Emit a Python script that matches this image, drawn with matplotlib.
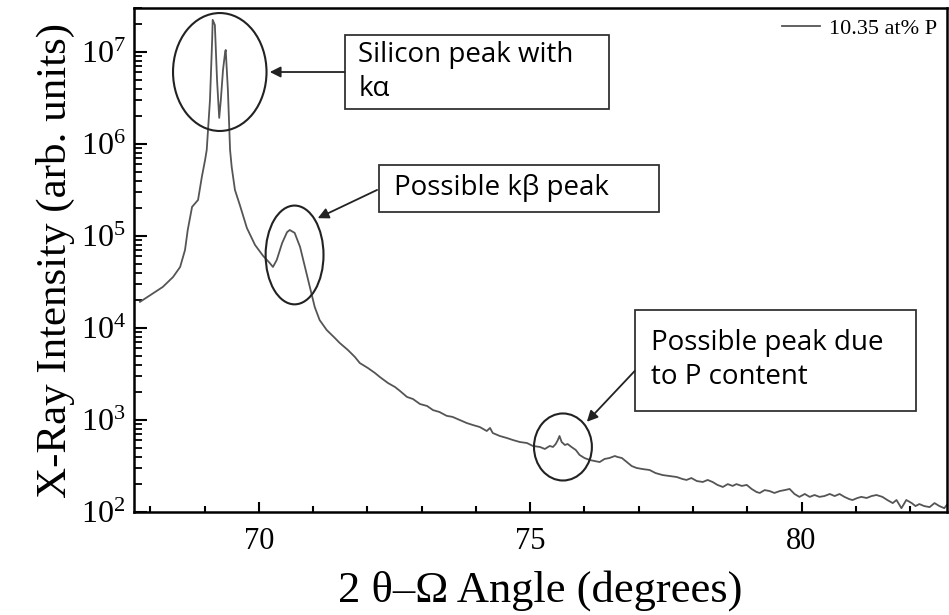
import matplotlib
matplotlib.use("Agg")
import matplotlib.pyplot as plt
import matplotlib.ticker as ticker
from matplotlib.patches import Ellipse, Rectangle

# 2theta-omega scan, values
angle = [
    67.81, 68.23, 68.42, 68.55, 68.64, 68.69, 68.77, 68.88, 68.95, 69.01,
    69.04, 69.10, 69.14, 69.15, 69.19, 69.23, 69.27, 69.30, 69.34, 69.38,
    69.39, 69.43, 69.47, 69.50, 69.56, 69.65, 69.78, 69.93, 70.08, 70.20,
    70.26, 70.33, 70.43, 70.52, 70.57, 70.66, 70.76, 70.85, 70.94, 71.03,
    71.12, 71.25, 71.40, 71.49, 71.64, 71.77, 71.86, 72.01, 72.14, 72.23,
    72.38, 72.51, 72.60, 72.73, 72.84, 72.97, 73.10, 73.21, 73.33, 73.46,
    73.57, 73.70, 73.83, 73.94, 74.07, 74.20, 74.26, 74.31, 74.44, 74.57,
    74.68, 74.81, 74.94, 75.05, 75.18, 75.27, 75.36, 75.42, 75.47, 75.51,
    75.54, 75.58, 75.64, 75.69, 75.76, 75.84, 75.91, 76.00, 76.10, 76.19,
    76.28, 76.37, 76.46, 76.56, 76.61, 76.69, 76.78, 76.87, 76.96, 77.07,
    77.20, 77.31, 77.44, 77.57, 77.70, 77.81, 77.88, 77.97, 78.07, 78.18,
    78.27, 78.36, 78.45, 78.55, 78.64, 78.73, 78.80, 78.90, 78.99, 79.08,
    79.17, 79.23, 79.32, 79.41, 79.50, 79.60, 79.69, 79.78, 79.87, 79.96,
    80.06, 80.15, 80.24, 80.33, 80.42, 80.52, 80.61, 80.70, 80.79, 80.88,
    80.94, 81.03, 81.10, 81.20, 81.29, 81.38, 81.49, 81.58, 81.68, 81.75,
    81.84, 81.93, 82.03, 82.10, 82.17, 82.26, 82.36, 82.45, 82.54, 82.63,
    82.69,
]
intensity = [
    19200, 27900, 35800, 46000, 70400, 116000, 207000, 246000, 438000, 670000,
    861000, 3.01e6, 1.35e7, 2.23e7, 1.96e7, 4.96e6, 1.92e6, 3.01e6, 6.37e6, 1.0e7,
    1.05e7, 3.86e6, 861000, 562000, 316000, 217000, 122000, 79800, 60600, 50900,
    46000, 54800, 83900, 110000, 116000, 108000, 75900, 46000, 27900, 16900,
    12200, 9510, 7790, 6870, 5770, 4840, 4160, 3670, 3240, 2930,
    2520, 2280, 2070, 1780, 1690, 1490, 1420, 1280, 1220, 1110,
    1080, 1000, 927, 883, 839, 759, 819, 722, 670, 637,
    606, 576, 562, 522, 509, 484, 522, 509, 548, 606,
    670, 576, 535, 548, 509, 472, 417, 386, 367, 358,
    349, 377, 386, 406, 396, 386, 349, 316, 301, 293,
    286, 265, 252, 246, 240, 228, 223, 234, 217, 212,
    223, 212, 197, 187, 201, 192, 201, 192, 197, 178,
    165, 161, 173, 169, 161, 169, 173, 178, 157, 146,
    157, 146, 153, 146, 149, 157, 149, 157, 146, 138,
    135, 142, 146, 142, 149, 153, 146, 135, 125, 135,
    110, 135, 125, 116, 122, 116, 113, 125, 116, 110,
    122,
]
series_label = "10.35 at% P"

# callouts: (text, box x0, y0, w, h in axes fraction, text x, text y)
callouts = [
    ("Silicon peak with\nk\u03b1", 0.259, 0.800, 0.325, 0.147, 0.276, 0.873),
    ("Possible k\u03b2 peak", 0.301, 0.595, 0.345, 0.093, 0.320, 0.643),
    ("Possible peak due\nto P content", 0.616, 0.200, 0.346, 0.200, 0.636, 0.302),
]
circles = [(0.1055, 0.873, 0.115, 0.234), (0.1975, 0.510, 0.0712, 0.196), (0.5276, 0.129, 0.0712, 0.133)]
arrows = [((0.259, 0.873), (0.167, 0.873)), ((0.299, 0.639), (0.226, 0.583)), ((0.616, 0.280), (0.557, 0.179))]

plt.rcParams["font.family"] = ["Liberation Serif", "DejaVu Serif"]
plt.rcParams["mathtext.fontset"] = "stix"

fig = plt.figure(figsize=(9.49, 6.15), dpi=100)
fig.patch.set_facecolor("white")
ax = fig.add_axes([134 / 949, 1 - 512 / 615, (947 - 134) / 949, (512 - 8) / 615])

ax.plot(angle, intensity, color="#555555", linewidth=1.3, label=series_label)
ax.set_yscale("log")
ax.set_xlim(67.70, 82.68)
ax.set_ylim(100, 3.0e7)

ax.xaxis.set_major_locator(ticker.MultipleLocator(5))
ax.xaxis.set_minor_locator(ticker.MultipleLocator(1))
ax.yaxis.set_major_locator(ticker.LogLocator(base=10, numticks=10))
ax.yaxis.set_minor_locator(ticker.LogLocator(base=10, subs=range(2, 10), numticks=20))
ax.yaxis.set_minor_formatter(ticker.NullFormatter())

ax.tick_params(axis="x", which="major", direction="in", length=7.5, width=1.5, labelsize=22, pad=11, top=False)
ax.tick_params(axis="x", which="minor", direction="in", length=4, width=1.5, top=False)
ax.tick_params(axis="y", which="major", direction="in", length=9.5, width=1.5, labelsize=23, pad=6, right=False)
ax.tick_params(axis="y", which="minor", direction="in", length=6, width=1.3, right=False)
for sp in ax.spines.values():
    sp.set_linewidth(1.8)

ax.set_xlabel("2 \u03b8\u2013\u03a9 Angle (degrees)", fontsize=32, labelpad=10)
ax.set_ylabel("X-Ray Intensity (arb. units)", fontsize=31, labelpad=4)

ax.legend(loc="upper right", frameon=False, fontsize=16, handlelength=1.7,
          borderaxespad=0.05, handletextpad=0.4)

# callout boxes, circles and arrows
for txt, x0, y0, w, h, tx, ty in callouts:
    ax.add_patch(Rectangle((x0, y0), w, h, transform=ax.transAxes, facecolor="white",
                           edgecolor="#333333", linewidth=1.3, zorder=4))
    ax.text(tx, ty, txt, transform=ax.transAxes, fontsize=20, family=["Open Sans", "DejaVu Sans"],
            ha="left", va="center", linespacing=1.3, zorder=5)
for cx, cy, w, h in circles:
    ax.add_patch(Ellipse((cx, cy), w, h, transform=ax.transAxes, fill=False,
                         edgecolor="#222222", linewidth=1.5, zorder=4))
for tail, head in arrows:
    ax.annotate("", xy=head, xytext=tail, xycoords="axes fraction", textcoords="axes fraction",
                arrowprops=dict(arrowstyle="-|>", color="#222222", lw=1.3, mutation_scale=16,
                                shrinkA=0, shrinkB=0), zorder=5)

fig.savefig("out.png", dpi=100, facecolor="white")
plt.close(fig)
